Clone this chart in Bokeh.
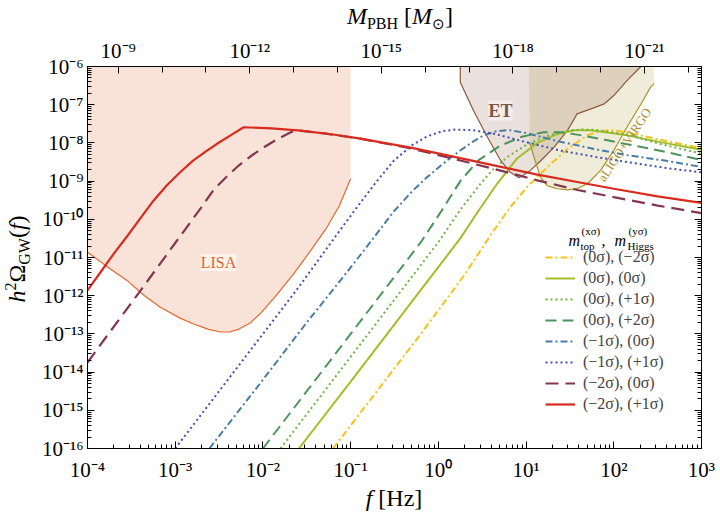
import math
from bokeh.plotting import figure
from bokeh.layouts import column, row
from bokeh.models import (Range1d, LogScale, LogAxis, FixedTicker, CustomJSTickFormatter,
                          Label, Legend, LegendItem, Div)
from bokeh.embed import file_html
from bokeh.resources import INLINE

# ---------------- data: log10(f / Hz) and log10(h^2 Omega_GW) ----------------
yel_logf = [-1.2, -0.7, -0.2, 0.3, 0.6, 0.82, 1.01, 1.24, 1.47, 1.7, 1.85, 2.0, 2.15, 2.53, 3.0]
yel_logomega = [-16.0, -14.5, -13.0, -11.45, -10.4, -9.68, -9.16, -8.64, -8.16, -7.8, -7.69, -7.67, -7.72, -7.92, -8.14]

lime_logf = [-1.59, -1.0, -0.5, -0.2, 0.05, 0.25, 0.46, 0.67, 0.9, 1.13, 1.36, 1.55, 1.74, 2.15, 2.53, 3.0]
lime_logomega = [-16.0, -14.25, -12.75, -11.85, -11.1, -10.5, -9.77, -9.07, -8.4, -8.0, -7.76, -7.67, -7.67, -7.8, -7.98, -8.18]

gdot_logf = [-1.8, -1.3, -0.8, -0.3, 0.0, 0.25, 0.48, 0.63, 0.8, 1.01, 1.24, 1.47, 1.62, 1.8, 2.15, 2.53, 3.0]
gdot_logomega = [-16.0, -14.5, -13.0, -11.5, -10.6, -9.75, -9.07, -8.68, -8.35, -8.04, -7.82, -7.69, -7.65, -7.66, -7.78, -8.03, -8.28]

gdash_logf = [-2.0, -1.5, -1.0, -0.5, -0.2, 0.03, 0.25, 0.46, 0.7, 0.95, 1.2, 1.4, 1.6, 1.9, 2.3, 2.6, 3.0]
gdash_logomega = [-16.0, -14.5, -13.0, -11.5, -10.6, -9.8, -9.0, -8.45, -8.08, -7.84, -7.72, -7.72, -7.79, -7.92, -8.1, -8.24, -8.45]

teal_logf = [-2.61, -2.0, -1.5, -1.1, -0.85, -0.65, -0.51, -0.3, -0.13, 0.05, 0.25, 0.4, 0.52, 0.65, 0.8, 1.0, 1.39, 1.8, 2.15, 2.6, 3.0]
teal_logomega = [-16.0, -14.2, -12.7, -11.55, -10.82, -10.22, -9.8, -9.27, -8.9, -8.55, -8.2, -7.96, -7.8, -7.7, -7.66, -7.74, -7.97, -8.17, -8.32, -8.47, -8.63]

blue_logf = [-3.0, -2.5, -2.0, -1.6, -1.3, -1.1, -0.89, -0.7, -0.51, -0.3, -0.13, 0.05, 0.2, 0.4, 0.63, 1.0, 1.39, 1.8, 2.15, 2.6, 3.0]
blue_logomega = [-16.0, -14.5, -13.0, -11.8, -10.85, -10.22, -9.57, -9.0, -8.47, -8.06, -7.83, -7.69, -7.65, -7.67, -7.76, -7.98, -8.2, -8.37, -8.5, -8.66, -8.77]

maroon_logf = [-4.0, -3.8, -3.6, -3.4, -3.2, -3.0, -2.85, -2.7, -2.56, -2.42, -2.28, -2.14, -2.0, -1.85, -1.7, -1.62,
               -1.3, -0.89, -0.3, 0.25, 0.7, 1.13, 1.6, 2.0, 2.5, 3.0]
maroon_logomega = [-13.75, -13.12, -12.5, -11.88, -11.25, -10.62, -10.15, -9.68, -9.22, -8.9, -8.6, -8.35, -8.13, -7.92, -7.74, -7.67,
                   -7.75, -7.89, -8.15, -8.46, -8.72, -8.98, -9.24, -9.42, -9.64, -9.84]

red_logf = [-4.0, -3.85, -3.7, -3.55, -3.4, -3.25, -3.1, -2.95, -2.8, -2.65, -2.5, -2.36, -2.22,
            -1.9, -1.57, -1.2, -0.89, -0.3, 0.25, 0.7, 1.13, 1.6, 2.0, 2.5, 3.0]
red_logomega = [-11.86, -11.38, -10.9, -10.45, -9.98, -9.52, -9.12, -8.78, -8.47, -8.22, -7.99, -7.79, -7.59,
                -7.62, -7.68, -7.78, -7.89, -8.13, -8.4, -8.62, -8.83, -9.03, -9.2, -9.4, -9.57]

lisa_logf = [-4.0, -3.8, -3.55, -3.35, -3.17, -2.95, -2.79, -2.62, -2.48, -2.38, -2.29, -2.15, -2.03, -1.85, -1.65, -1.45, -1.27, -1.13, -1.0]
lisa_logomega = [-10.86, -11.2, -11.6, -12.0, -12.3, -12.58, -12.74, -12.88, -12.95, -12.95, -12.89, -12.72, -12.47, -12.0, -11.43, -10.8, -10.21, -9.65, -8.94]

et_logf = [0.25, 0.25, 0.40, 0.56, 0.71, 0.82, 0.92, 1.05, 1.17, 1.32, 1.47, 1.55, 1.58, 1.74, 1.89, 2.0, 2.15, 2.31]
et_logomega = [-6.0, -6.41, -7.15, -7.85, -8.46, -8.77, -8.91, -8.72, -8.46, -8.11, -7.68, -7.37, -7.24, -7.11, -6.98, -6.76, -6.37, -6.0]

ligo_logf = [1.03, 1.04, 1.09, 1.165, 1.24, 1.355, 1.47, 1.58, 1.70, 1.85, 2.0, 2.15, 2.31, 2.42, 2.46, 2.46]
ligo_logomega = [-6.0, -7.98, -8.37, -8.90, -9.12, -9.20, -9.23, -9.20, -9.07, -8.72, -8.20, -7.59, -6.98, -6.54, -6.45, -6.0]

x_decades = [-4, -3, -2, -1, 0, 1, 2, 3]
y_decades = [-16, -15, -14, -13, -12, -11, -10, -9, -8, -7, -6]
mass_labelled = [-9, -12, -15, -18, -21]
mass_decades = list(range(-22, -8))
log_mass_const = -16.3   # log10 M_PBH = const - 2 log10 f

legend_labels = ["(0σ), (−2σ)", "(0σ), (0σ)", "(0σ), (+1σ)", "(0σ), (+2σ)",
                 "(−1σ), (0σ)", "(−1σ), (+1σ)", "(−2σ), (0σ)", "(−2σ), (+1σ)"]

FONT = "Liberation Serif"


def pw(a):
    return [10.0 ** v for v in a]


# ---------------- figure ----------------
FIG_W, FIG_H = 681, 450
p = figure(width=FIG_W, height=FIG_H, x_axis_type="log", y_axis_type="log",
           x_range=Range1d(10.0 ** x_decades[0], 10.0 ** x_decades[-1]),
           y_range=Range1d(10.0 ** y_decades[0], 10.0 ** y_decades[-1]),
           output_backend="svg", toolbar_location=None,
           min_border_left=49, min_border_right=18, min_border_top=32, min_border_bottom=36)
p.grid.visible = False
p.outline_line_color = "black"
p.background_fill_color = "white"
p.border_fill_color = "white"

fmt = CustomJSTickFormatter(code="""
const e = Math.round(Math.log10(tick));
const m = {'-':'\u207b','0':'\u2070','1':'\u00b9','2':'\u00b2','3':'\u00b3','4':'\u2074',
           '5':'\u2075','6':'\u2076','7':'\u2077','8':'\u2078','9':'\u2079'};
let s = '';
for (const c of String(e)) { s += m[c]; }
return '10' + s;
""")
blank = CustomJSTickFormatter(code="return '';")

xt = FixedTicker(ticks=pw(x_decades),
                 minor_ticks=[m * 10.0 ** k for k in x_decades[:-1] for m in range(2, 10)])
yt = FixedTicker(ticks=pw(y_decades),
                 minor_ticks=[m * 10.0 ** k for k in y_decades[:-1] for m in range(2, 10)])


def style_axis(ax, size="21px"):
    ax.major_tick_in = 7
    ax.major_tick_out = 0
    ax.minor_tick_in = 4
    ax.minor_tick_out = 0
    ax.axis_line_color = "black"
    ax.major_tick_line_color = "black"
    ax.minor_tick_line_color = "black"
    ax.major_label_text_font = FONT
    ax.major_label_text_font_size = size
    ax.major_label_text_color = "black"


xa = p.xaxis[0]
xa.ticker = xt
xa.formatter = fmt
style_axis(xa)
xa.major_label_standoff = 9

ya = p.yaxis[0]
ya.ticker = yt
ya.formatter = fmt
style_axis(ya)
ya.major_label_standoff = 4

ra = LogAxis(ticker=yt, formatter=blank)
style_axis(ra)
ra.major_label_standoff = 0
p.add_layout(ra, "right")

p.extra_x_ranges = {"mass": Range1d(10.0 ** (log_mass_const - 2 * x_decades[0]),
                                    10.0 ** (log_mass_const - 2 * x_decades[-1]))}
p.extra_x_scales = {"mass": LogScale()}
ta = LogAxis(x_range_name="mass",
             ticker=FixedTicker(ticks=pw(mass_labelled), minor_ticks=pw(mass_decades)),
             formatter=fmt)
style_axis(ta)
ta.minor_tick_in = 6
ta.major_label_standoff = 4
p.add_layout(ta, "above")

# ---------------- detector regions ----------------
top = 10.0 ** y_decades[-1]
lx, ly = pw(lisa_logf), pw(lisa_logomega)
p.patch(lx + [lx[-1], lx[0]], ly + [top, top], fill_color="#f9e3d9", line_alpha=0)
p.line(lx, ly, line_color="#e5672e", line_width=1.2)

gx, gy = pw(ligo_logf), pw(ligo_logomega)
p.patch(gx, gy, fill_color="#b4a046", fill_alpha=0.2, line_alpha=0)

ex, ey = pw(et_logf), pw(et_logomega)
p.patch(ex, ey, fill_color="#8b5a3c", fill_alpha=0.18, line_alpha=0)
p.line(ex, ey, line_color="#8c5a3c", line_width=1.2)
p.line(gx[1:-1], gy[1:-1], line_color="#ab922a", line_width=1.2)

# ---------------- spectra ----------------
series = [
    (yel_logf, yel_logomega, "#f3c31d", "7 3 2 3", 2.0),
    (lime_logf, lime_logomega, "#a4be2a", "solid", 2.0),
    (gdot_logf, gdot_logomega, "#6db443", "2 3", 2.0),
    (gdash_logf, gdash_logomega, "#4c945a", "11 6", 2.0),
    (teal_logf, teal_logomega, "#4b7ca6", "7 3 2 3", 2.0),
    (blue_logf, blue_logomega, "#4351b0", "2 3", 2.0),
    (maroon_logf, maroon_logomega, "#84364f", "13 7", 2.2),
    (red_logf, red_logomega, "#d92a1f", "solid", 2.2),
]
items = []
for (lf, lo, col, dash, wid), lab in zip(series, legend_labels):
    r = p.line(pw(lf), pw(lo), line_color=col, line_width=wid, line_dash=dash)
    items.append(LegendItem(label=lab, renderers=[r]))

leg = Legend(items=items, location=(458, 34), padding=0, margin=0, spacing=1,
             glyph_width=30, glyph_height=20, label_height=20, label_standoff=8,
             label_text_font=FONT, label_text_font_size="16px",
             background_fill_alpha=0, border_line_alpha=0)
p.add_layout(leg)

# ---------------- text annotations inside the frame (positions in page pixels) ----------------
FL, FR, FT, FB = 87.0, 701.0, 66.0, 448.0


def P(ix, iy):
    lf = x_decades[0] + (ix - FL) * (x_decades[-1] - x_decades[0]) / (FR - FL)
    lo = y_decades[-1] - (iy - FT) * (y_decades[-1] - y_decades[0]) / (FB - FT)
    return 10.0 ** lf, 10.0 ** lo


def put(text, ix, iy, size, style="normal", color="black", angle=0.0,
        align="left", baseline="alphabetic", bg=None, bg_alpha=0.0):
    x, y = P(ix, iy)
    lab = Label(x=x, y=y, text=text, text_font=FONT, text_font_size=f"{size}px",
                text_font_style=style, text_color=color, angle=angle,
                text_align=align, text_baseline=baseline)
    if bg is not None:
        lab.background_fill_color = bg
        lab.background_fill_alpha = bg_alpha
    p.add_layout(lab)


# legend title
put("m", 568, 240, 16, "italic")
put("(xσ)", 581, 230, 11)
put("top", 580, 245, 11)
put(",", 601, 240, 16)
put("m", 614, 240, 16, "italic")
put("(yσ)", 628, 230, 11)
put("Higgs", 627, 245, 11)

# detector names
put("LISA", 218, 262, 16, color="#e0642f", align="center", baseline="middle",
    bg="white", bg_alpha=0.55)
put("ET", 500, 110, 18, style="bold", color="#7d5545", align="center", baseline="middle",
    bg="white", bg_alpha=0.45)
put("aLIGO+VIRGO", 624, 144, 13, color="#a88f2a", align="center", baseline="middle",
    angle=0.98)

# ---------------- axis titles as real HTML text ----------------
BASE = f"font-family:'{FONT}'; font-size:24px; line-height:24px; white-space:nowrap; color:black;"
SUB = "font-size:16px; position:relative; top:5px;"
SUP = "font-size:16px; position:relative; top:-9px;"

top_title = Div(width=719, height=34, margin=0, styles={"overflow": "visible"},
                text=(f'<div style="{BASE} margin-left:300px; width:200px; text-align:center; padding-top:4px;">'
                      f'<i>M</i><span style="{SUB}">PBH</span> [<i>M</i>'
                      f'<span style="font-size:15px; position:relative; top:5px;">⊙</span>]</div>'))

y_title = Div(width=38, height=FIG_H, margin=0, styles={"overflow": "visible"},
              text=(f'<div style="{BASE} width:446px; height:33px; padding-left:4px; padding-top:5px; '
                    f'text-align:center; transform-origin:0 0; '
                    f'transform:translate(0px,{FIG_H}px) rotate(-90deg);">'
                    f'<i>h</i><span style="{SUP}">2</span>Ω<span style="{SUB}">GW</span>(<i>f</i>)</div>'))

x_title = Div(width=719, height=32, margin=0, styles={"overflow": "visible"},
              text=(f'<div style="{BASE} margin-left:294px; width:200px; text-align:center; padding-top:2px;">'
                    f'<i>f</i> [Hz]</div>'))

layout = column(top_title, row(y_title, p, spacing=0), x_title, spacing=0)

open("out.html", "w").write(file_html(layout, INLINE))
